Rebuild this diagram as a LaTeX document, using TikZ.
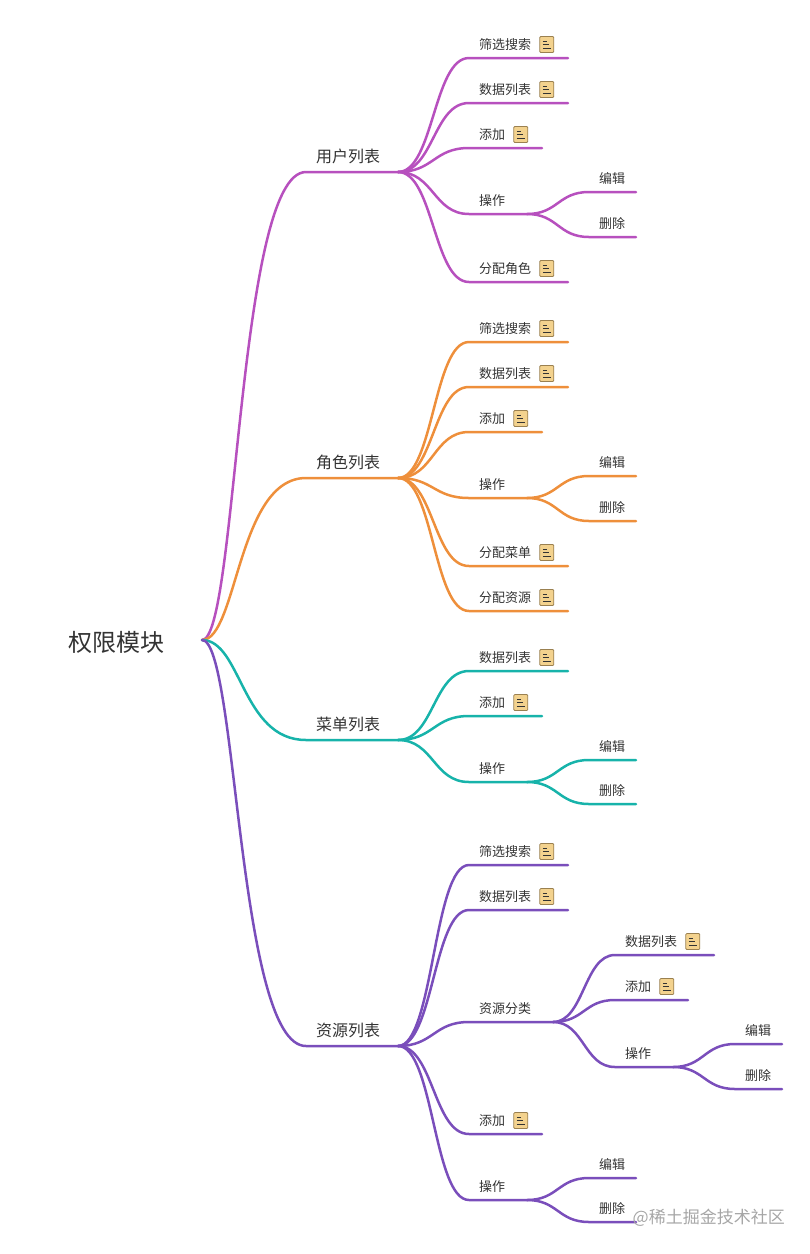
\documentclass[tikz,border=0pt]{standalone}
\usepackage{fontspec}
\setmainfont{Noto Sans CJK SC}
\usetikzlibrary{positioning,calc}

\definecolor{userline}{HTML}{B750BE}
\definecolor{roleline}{HTML}{EE8F3B}
\definecolor{menuline}{HTML}{17B3AA}
\definecolor{resline}{HTML}{7A4EBB}
\definecolor{notefill}{HTML}{F3D28E}
\definecolor{noteedge}{HTML}{9A8050}
\definecolor{labeltext}{HTML}{333333}

\tikzset{
    link/.style={line width=2.5pt, line cap=round, line join=round},
    topic/.style={anchor=west, inner sep=0pt, yshift=1pt, text=labeltext, font=\fontsize{16}{16}\selectfont},
    leaf/.style={anchor=west, inner sep=0pt, yshift=-1.5pt, text=labeltext, font=\fontsize{13}{13}\selectfont},
    noteicon/.style={draw=noteedge, fill=notefill, line width=0.8pt, rounded corners=1pt,
        inner sep=0pt, minimum width=14pt, minimum height=16pt,
        path picture={
            \draw[line width=1pt, labeltext]
                ($(path picture bounding box.center)+(-4,-3.5)$) -- +(4,0)
                ($(path picture bounding box.center)+(-4,0)$) -- +(6,0)
                ($(path picture bounding box.center)+(-4,3.5)$) -- +(8,0);
        }},
}

% name, text, style, text x, line y, line end x
\newcommand{\stem}[6]{
    \node[#3] (#1) at (#4,#5-15) {#2};
    \coordinate (#1S) at (#4-10,#5);
    \coordinate (#1E) at (#6,#5);
}
% same, with the note icon behind the text
\newcommand{\notestem}[5]{
    \stem{#1}{#2}{leaf}{#3}{#4}{#5}
    \node[noteicon, right=8pt of #1] (#1N) {};
}
% [bend point], from, to
\newcommand{\limb}[3][0.5]{
    \draw[link] let \p1=(#2E), \p2=(#3S), \n1={\x1+(\x2-\x1)*#1} in
        (#2E) .. controls (\n1,\y1) and (\n1,\y2) .. (#3S) -- (#3E);
}

\begin{document}
\begin{tikzpicture}[x=1pt, y=-1pt]
    \useasboundingbox (0,0) rectangle (810,1254);

    % Root
    \node[anchor=west, inner sep=0pt, text=labeltext, font=\fontsize{24}{24}\selectfont] (root) at (68,642) {权限模块};
    \coordinate (rootE) at (202,640);

    % User list
    \begin{scope}[color=userline]
        \stem{user}{用户列表}{topic}{316}{172}{398}
        \notestem{userFilter}{筛选搜索}{479}{58}{568}
        \notestem{userData}{数据列表}{479}{103}{568}
        \notestem{userAdd}{添加}{479}{148}{542}
        \stem{userOp}{操作}{leaf}{479}{214}{527}
        \stem{userEdit}{编辑}{leaf}{599}{192}{636}
        \stem{userDel}{删除}{leaf}{599}{237}{636}
        \notestem{userRole}{分配角色}{479}{282}{568}
        \limb[0.34]{root}{user}
        \limb{user}{userFilter}
        \limb{user}{userData}
        \limb{user}{userAdd}
        \limb{user}{userOp}
        \limb{userOp}{userEdit}
        \limb{userOp}{userDel}
        \limb{user}{userRole}
    \end{scope}

    % Role list
    \begin{scope}[color=roleline]
        \stem{role}{角色列表}{topic}{316}{478}{398}
        \notestem{roleFilter}{筛选搜索}{479}{342}{568}
        \notestem{roleData}{数据列表}{479}{387}{568}
        \notestem{roleAdd}{添加}{479}{432}{542}
        \stem{roleOp}{操作}{leaf}{479}{498}{527}
        \stem{roleEdit}{编辑}{leaf}{599}{476}{636}
        \stem{roleDel}{删除}{leaf}{599}{521}{636}
        \notestem{roleMenu}{分配菜单}{479}{566}{568}
        \notestem{roleRes}{分配资源}{479}{611}{568}
        \limb[0.34]{root}{role}
        \limb{role}{roleFilter}
        \limb{role}{roleData}
        \limb{role}{roleAdd}
        \limb{role}{roleOp}
        \limb{roleOp}{roleEdit}
        \limb{roleOp}{roleDel}
        \limb{role}{roleMenu}
        \limb{role}{roleRes}
    \end{scope}

    % Menu list
    \begin{scope}[color=menuline]
        \stem{menu}{菜单列表}{topic}{316}{740}{398}
        \notestem{menuData}{数据列表}{479}{671}{568}
        \notestem{menuAdd}{添加}{479}{716}{542}
        \stem{menuOp}{操作}{leaf}{479}{782}{527}
        \stem{menuEdit}{编辑}{leaf}{599}{760}{636}
        \stem{menuDel}{删除}{leaf}{599}{804}{636}
        \limb[0.38]{root}{menu}
        \limb{menu}{menuData}
        \limb{menu}{menuAdd}
        \limb{menu}{menuOp}
        \limb{menuOp}{menuEdit}
        \limb{menuOp}{menuDel}
    \end{scope}

    % Resource list
    \begin{scope}[color=resline]
        \stem{res}{资源列表}{topic}{316}{1046}{398}
        \notestem{resFilter}{筛选搜索}{479}{865}{568}
        \notestem{resData}{数据列表}{479}{910}{568}
        \stem{resKind}{资源分类}{leaf}{479}{1022}{553}
        \notestem{kindData}{数据列表}{625}{955}{714}
        \notestem{kindAdd}{添加}{625}{1000}{688}
        \stem{kindOp}{操作}{leaf}{625}{1067}{673}
        \stem{kindEdit}{编辑}{leaf}{745}{1044}{782}
        \stem{kindDel}{删除}{leaf}{745}{1089}{782}
        \notestem{resAdd}{添加}{479}{1134}{542}
        \stem{resOp}{操作}{leaf}{479}{1200}{527}
        \stem{resEdit}{编辑}{leaf}{599}{1178}{636}
        \stem{resDel}{删除}{leaf}{599}{1222}{636}
        \limb[0.34]{root}{res}
        \limb{res}{resFilter}
        \limb{res}{resData}
        \limb{res}{resKind}
        \limb{resKind}{kindData}
        \limb{resKind}{kindAdd}
        \limb{resKind}{kindOp}
        \limb{kindOp}{kindEdit}
        \limb{kindOp}{kindDel}
        \limb{res}{resAdd}
        \limb{res}{resOp}
        \limb{resOp}{resEdit}
        \limb{resOp}{resDel}
    \end{scope}

    % Watermark
    \node[anchor=east, inner sep=0pt, text=black!35, font=\fontsize{17}{17}\selectfont] (mark) at (785,1218) {@稀土掘金技术社区};
\end{tikzpicture}
\end{document}
